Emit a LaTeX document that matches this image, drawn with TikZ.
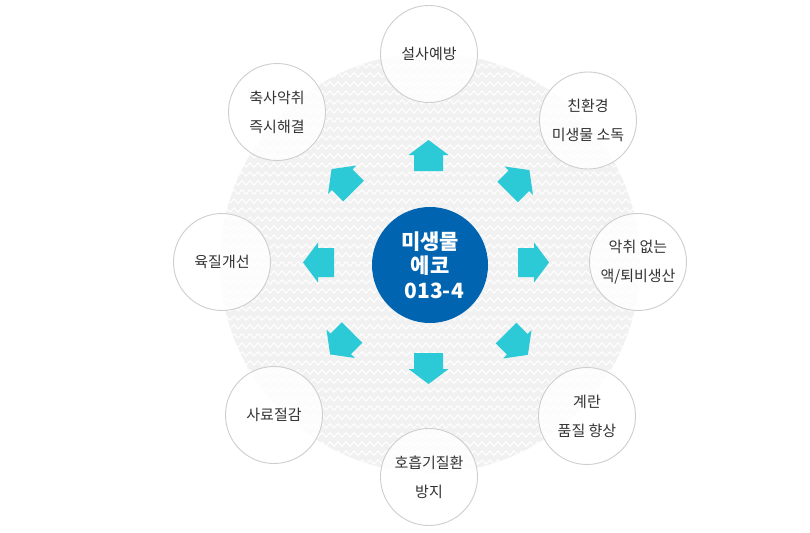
\documentclass[tikz,border=0pt]{standalone}
\usepackage{fontspec}
\setmainfont{Noto Sans CJK KR}
\usetikzlibrary{decorations.pathmorphing}
\definecolor{arrowc}{RGB}{44,201,215}
\definecolor{hubc}{RGB}{0,100,177}
\definecolor{bgc}{RGB}{241,241,241}
\definecolor{ringc}{RGB}{206,206,206}
\definecolor{txtc}{RGB}{51,51,51}
\newcommand\flowarrow[3]{%
  \fill[arrowc, shift={(#1,#2)}, rotate={0-(#3)}]
    (0,-14.5) -- (16,-14.5) -- (16,-20) -- (31,0) -- (16,20) -- (16,14.5) -- (0,14.5) -- cycle;}
\begin{document}
\begin{tikzpicture}[x=1pt,y=-1pt,
  sat/.style={circle, draw=ringc, line width=0.9pt, fill=white, fill opacity=0.85,
    text opacity=1, minimum size=97, inner sep=0, align=center, text=txtc,
    font=\fontsize{15}{29}\selectfont},
  hub/.style={circle, fill=hubc, minimum size=116, inner sep=0, align=center,
    text=white, font=\fontsize{21}{24.5}\selectfont\bfseries}]
\useasboundingbox (0,0) rectangle (810,532);
\fill[white] (0,0) rectangle (810,532);
\node[circle, fill=bgc, minimum size=420, inner sep=0] (bg) at (430,263) {};
\begin{scope}
  \clip (430,263) circle[radius=210];
  \foreach \yy in {48,57,...,480}
    \draw[white, line width=1pt, decorate,
      decoration={zigzag, segment length=8, amplitude=2.2}] (200,\yy) -- (660,\yy);
\end{scope}

\flowarrow{428.5}{171}{-90}
\flowarrow{428.5}{353}{90}
\flowarrow{518}{262.5}{0}
\flowarrow{334}{262.5}{180}
\flowarrow{353.5}{191}{225}
\flowarrow{507.5}{192}{-45}
\flowarrow{352}{332.5}{135}
\flowarrow{506}{333}{45}

\node[hub] (hub) at (430,265) {미생물\\에코\\\hspace*{0.4em}013-4};

\node[sat] (s1) at (429,54) {설사예방};
\node[sat] (s2) at (588,120.5) {친환경\\미생물 소독};
\node[sat] (s3) at (638,262) {악취 없는\\액/퇴비생산};
\node[sat] (s4) at (587,416) {계란\\품질 향상};
\node[sat] (s5) at (429,477) {호흡기질환\\방지};
\node[sat] (s6) at (274,415) {사료절감};
\node[sat] (s7) at (222,262) {육질개선};
\node[sat] (s8) at (277,112) {축사악취\\즉시해결};
\end{tikzpicture}
\end{document}
